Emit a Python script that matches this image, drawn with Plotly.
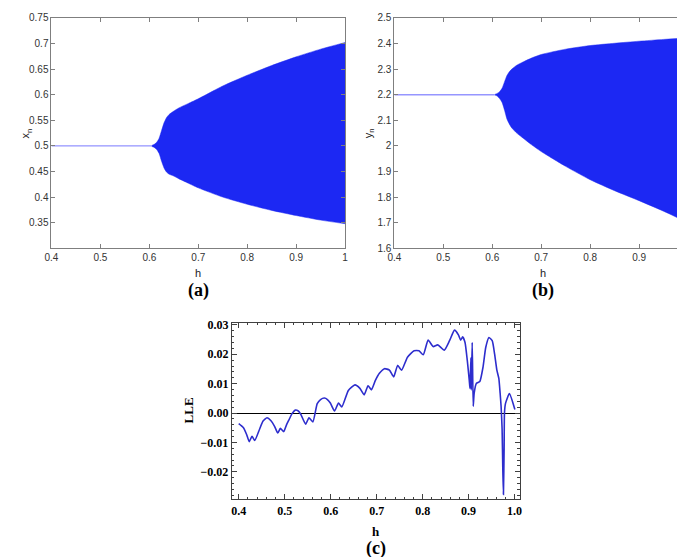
import plotly.graph_objects as go

# ---------------- data ----------------
# (a) bifurcation diagram of x_n : envelope
h_band = [0.605, 0.61, 0.615, 0.62, 0.625, 0.63, 0.635, 0.64, 0.65, 0.66, 0.68, 0.70,
          0.75, 0.80, 0.85, 0.90, 0.95, 1.00]
x_upper = [0.501, 0.503, 0.507, 0.515, 0.530, 0.545, 0.555, 0.561, 0.568, 0.574, 0.583, 0.592,
           0.617, 0.638, 0.657, 0.674, 0.689, 0.702]
x_lower = [0.499, 0.497, 0.493, 0.485, 0.470, 0.457, 0.449, 0.445, 0.441, 0.436, 0.427, 0.418,
           0.400, 0.386, 0.374, 0.364, 0.355, 0.348]
h_fixed = [0.40, 0.605]
x_fixed = [0.5, 0.5]

# (b) bifurcation diagram of y_n
y_upper = [2.201, 2.205, 2.212, 2.225, 2.250, 2.275, 2.290, 2.300, 2.315, 2.325, 2.343, 2.357,
           2.378, 2.392, 2.401, 2.409, 2.416, 2.422]
y_lower = [2.199, 2.195, 2.185, 2.170, 2.140, 2.105, 2.085, 2.070, 2.050, 2.035, 2.005, 1.978,
           1.920, 1.868, 1.825, 1.786, 1.745, 1.700]
y_fixed = [2.2, 2.2]

# (c) largest Lyapunov exponent
h_lle = [0.400, 0.410, 0.417, 0.423, 0.429, 0.435, 0.4456, 0.453, 0.4615, 0.4707, 0.478, 0.485,
         0.4906, 0.498, 0.504, 0.510, 0.516, 0.5228, 0.529, 0.535, 0.5457, 0.5528, 0.5613,
         0.5708, 0.578, 0.5864, 0.593, 0.5993, 0.6085, 0.617, 0.6243, 0.6385, 0.6528, 0.6636,
         0.6728, 0.6813, 0.6886, 0.697, 0.706, 0.7171, 0.7278, 0.737, 0.7456, 0.7542, 0.767,
         0.7814, 0.7921, 0.8013, 0.812, 0.8228, 0.8328, 0.8472, 0.8585, 0.8693, 0.8778, 0.8828,
         0.887, 0.8922, 0.8971, 0.9014, 0.9029, 0.905, 0.9057, 0.9078, 0.910, 0.9121, 0.917,
         0.9243, 0.9314, 0.9372, 0.9442, 0.9513, 0.9565, 0.9614, 0.9657, 0.9685, 0.9706, 0.9728,
         0.9743, 0.9757, 0.9772, 0.978, 0.9801, 0.9887, 1.0006]
lle = [-0.0036, -0.0049, -0.0072, -0.0097, -0.0079, -0.0093, -0.0054, -0.0027, -0.0016, -0.0027,
       -0.0045, -0.0068, -0.0052, -0.0063, -0.0040, -0.0021, -0.0002, 0.0010, 0.0008, -0.0004,
       -0.0038, -0.0016, -0.0030, 0.0032, 0.0046, 0.0051, 0.0046, 0.0034, 0.0007, 0.0034, 0.0021,
       0.0077, 0.0096, 0.0084, 0.0062, 0.0093, 0.0079, 0.0110, 0.0135, 0.0151, 0.0146, 0.0123,
       0.0162, 0.0146, 0.0190, 0.0212, 0.0212, 0.0198, 0.0248, 0.0226, 0.0232, 0.0214, 0.0246,
       0.0282, 0.0266, 0.0248, 0.0259, 0.0240, 0.0179, 0.0112, 0.0084, 0.0188, 0.0079, 0.0240,
       0.0023, 0.0068, 0.0101, 0.0107, 0.0157, 0.0223, 0.0257, 0.0246, 0.0201, 0.0146, 0.0118,
       0.0068, 0.0023, -0.0054, -0.0188, -0.0277, -0.0121, 0.0001, 0.0032, 0.0066, 0.0012]

ab_ticks_x = [0.4, 0.5, 0.6, 0.7, 0.8, 0.9, 1.0]
a_ticks_y = [0.35, 0.4, 0.45, 0.5, 0.55, 0.6, 0.65, 0.7, 0.75]
b_ticks_y = [1.6, 1.7, 1.8, 1.9, 2.0, 2.1, 2.2, 2.3, 2.4, 2.5]
c_ticks_x = [0.4, 0.5, 0.6, 0.7, 0.8, 0.9, 1.0]
c_ticktext_x = ["0.4", "0.5", "0.6", "0.7", "0.8", "0.9", "1.0"]
c_ticks_y = [-0.02, -0.01, 0.0, 0.01, 0.02, 0.03]
c_ticktext_y = ["\u22120.02", "\u22120.01", "0.00", "0.01", "0.02", "0.03"]

# ---------------- figure ----------------
W, H = 685, 557
BAND = "rgb(28,40,243)"
SERIF = "Times New Roman, Liberation Serif, serif"
SANS = "Arial, Liberation Sans, sans-serif"
fig = go.Figure()

# panel (a)
fig.add_trace(go.Scatter(x=h_band, y=x_lower, mode="lines",
                         line=dict(width=0.5, color=BAND, shape="spline", smoothing=0.6),
                         xaxis="x", yaxis="y", showlegend=False, hoverinfo="skip"))
fig.add_trace(go.Scatter(x=h_band, y=x_upper, mode="lines",
                         line=dict(width=0.5, color=BAND, shape="spline", smoothing=0.6),
                         fill="tonexty", fillcolor=BAND, xaxis="x", yaxis="y", showlegend=False))
fig.add_trace(go.Scatter(x=h_fixed, y=x_fixed, mode="lines", line=dict(width=1, color="rgb(120,120,255)"),
                         xaxis="x", yaxis="y", showlegend=False))
# panel (b)
fig.add_trace(go.Scatter(x=h_band, y=y_lower, mode="lines",
                         line=dict(width=0.5, color=BAND, shape="spline", smoothing=0.6),
                         xaxis="x2", yaxis="y2", showlegend=False, hoverinfo="skip"))
fig.add_trace(go.Scatter(x=h_band, y=y_upper, mode="lines",
                         line=dict(width=0.5, color=BAND, shape="spline", smoothing=0.6),
                         fill="tonexty", fillcolor=BAND, xaxis="x2", yaxis="y2", showlegend=False))
fig.add_trace(go.Scatter(x=h_fixed, y=y_fixed, mode="lines", line=dict(width=1.5, color="rgb(150,150,255)"),
                         xaxis="x2", yaxis="y2", showlegend=False))
# panel (c)
fig.add_trace(go.Scatter(x=h_lle, y=lle, mode="lines",
                         line=dict(width=1.6, color="rgb(45,45,205)", shape="spline", smoothing=0.5),
                         xaxis="x3", yaxis="y3", showlegend=False))

def px(x):
    return x / W

def py(y):
    return 1 - y / H

mat_font = dict(family=SANS, size=10, color="#333333")
mat_axis = dict(showline=True, linecolor="#7f7f7f", linewidth=1, mirror="ticks", ticks="inside",
                ticklen=4, tickcolor="#7f7f7f", showgrid=False, zeroline=False, tickfont=mat_font,
                ticklabeloverflow="allow", layer="above traces")

tnr_font = dict(family=SERIF, size=12, color="black", weight="bold")
mma_axis = dict(showline=True, linecolor="#404040", linewidth=1, mirror="ticks", ticks="inside",
                ticklen=5, tickcolor="#404040", showgrid=False, tickfont=tnr_font)

fig.update_layout(
    width=W, height=H, margin=dict(l=0, r=0, t=0, b=0),
    paper_bgcolor="white", plot_bgcolor="white",
    xaxis=dict(domain=[px(37), px(335)], range=[0.4, 1.0], tickvals=ab_ticks_x, anchor="y", **mat_axis),
    yaxis=dict(domain=[py(239), py(4)], range=[0.3, 0.75], tickvals=a_ticks_y, anchor="x", **mat_axis),
    xaxis2=dict(domain=[px(385), px(683)], range=[0.4, 1.0], tickvals=ab_ticks_x, anchor="y2", **mat_axis),
    yaxis2=dict(domain=[py(239), py(4)], range=[1.6, 2.5], tickvals=b_ticks_y, anchor="x2", **mat_axis),
    xaxis3=dict(domain=[px(220), px(512)], range=[0.385, 1.0107], tickvals=c_ticks_x,
                ticktext=c_ticktext_x, anchor="y3", zeroline=False,
                minor=dict(dtick=0.02, tick0=0.4, ticks="inside", ticklen=2.5, tickcolor="#404040"),
                **mma_axis),
    yaxis3=dict(domain=[py(495), py(315)], range=[-0.0293, 0.0307], tickvals=c_ticks_y,
                ticktext=c_ticktext_y, anchor="x3", zeroline=True, zerolinecolor="black",
                zerolinewidth=1,
                minor=dict(dtick=0.002, tick0=0, ticks="inside", ticklen=2.5, tickcolor="#404040"),
                **mma_axis),
)

ann = []
def label(x, y, text, font, angle=0):
    ann.append(dict(x=px(x), y=py(y), xref="paper", yref="paper", text=text, showarrow=False,
                    font=font, textangle=angle, xanchor="center", yanchor="middle"))

lab_font = dict(family=SANS, size=11, color="#222222")
bold_big = dict(family=SERIF, size=18, color="black", weight="bold")
bold_mid = dict(family=SERIF, size=13, color="black", weight="bold")

label(186, 264, "h", lab_font)
label(536, 264, "h", lab_font)
label(11, 122, "x<sub>n</sub>", lab_font, -90)
label(359, 122, "y<sub>n</sub>", lab_font, -90)
label(186, 282, "(a)", bold_big)
label(536, 282, "(b)", bold_big)
label(366, 528, "h", bold_mid)
label(176, 404, "LLE", bold_mid, -90)
label(366, 545, "(c)", bold_big)
fig.update_layout(annotations=ann)

fig.write_html("out.html")
